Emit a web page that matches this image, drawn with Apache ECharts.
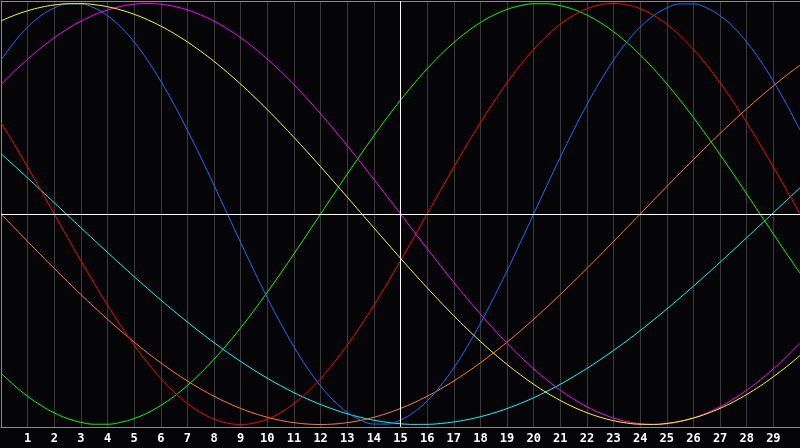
<!DOCTYPE html>
<html>
<head>
<meta charset="utf-8">
<script src="https://cdn.jsdelivr.net/npm/echarts@6/dist/echarts.min.js"></script>
<style>
html,body{margin:0;padding:0;background:#050508;}
#chart{width:800px;height:448px;}
</style>
</head>
<body>
<div id="chart"></div>
<script>
var days = [0,0.5,1,1.5,2,2.5,3,3.5,4,4.5,5,5.5,6,6.5,7,7.5,8,8.5,9,9.5,10,10.5,11,11.5,12,12.5,13,13.5,14,14.5,15,15.5,16,16.5,17,17.5,18,18.5,19,19.5,20,20.5,21,21.5,22,22.5,23,23.5,24,24.5,25,25.5,26,26.5,27,27.5,28,28.5,29,29.5,30];
var tickLabels = ['1','2','3','4','5','6','7','8','9','10','11','12','13','14','15','16','17','18','19','20','21','22','23','24','25','26','27','28','29'];

var blueVals = [0.731,0.817,0.888,0.942,0.979,0.998,0.998,0.979,0.942,0.888,0.817,0.731,0.631,0.520,0.398,0.270,0.136,0,-0.136,-0.270,-0.398,-0.520,-0.631,-0.731,-0.817,-0.888,-0.942,-0.979,-0.998,-0.998,-0.979,-0.942,-0.888,-0.817,-0.731,-0.631,-0.520,-0.398,-0.270,-0.136,0,0.136,0.270,0.398,0.520,0.631,0.731,0.817,0.888,0.942,0.979,0.998,0.998,0.979,0.942,0.888,0.817,0.731,0.631,0.520,0.398];
var redVals = [0.4339,0.3303,0.2225,0.1120,0,-0.1120,-0.2225,-0.3303,-0.4339,-0.5320,-0.6235,-0.7071,-0.7818,-0.8467,-0.9010,-0.9439,-0.9749,-0.9937,-1,-0.9937,-0.9749,-0.9439,-0.9010,-0.8467,-0.7818,-0.7071,-0.6235,-0.5320,-0.4339,-0.3303,-0.2225,-0.1120,0,0.1120,0.2225,0.3303,0.4339,0.5320,0.6235,0.7071,0.7818,0.8467,0.9010,0.9439,0.9749,0.9937,1,0.9937,0.9749,0.9439,0.9010,0.8467,0.7818,0.7071,0.6235,0.5320,0.4339,0.3303,0.2225,0.1120,0];
var greenVals = [-0.7557,-0.8146,-0.8660,-0.9096,-0.9450,-0.9718,-0.9898,-0.9989,-0.9989,-0.9898,-0.9718,-0.9450,-0.9096,-0.8660,-0.8146,-0.7557,-0.6900,-0.6181,-0.5406,-0.4582,-0.3717,-0.2817,-0.1893,-0.0950,0,0.0950,0.1893,0.2817,0.3717,0.4582,0.5406,0.6181,0.6900,0.7557,0.8146,0.8660,0.9096,0.9450,0.9718,0.9898,0.9989,0.9989,0.9898,0.9718,0.9450,0.9096,0.8660,0.8146,0.7557,0.6900,0.6181,0.5406,0.4582,0.3717,0.2817,0.1893,0.0950,0,-0.0950,-0.1893,-0.2817];
var magentaVals = [0.6142,0.6773,0.7357,0.7891,0.8372,0.8795,0.9158,0.9458,0.9694,0.9864,0.9966,1,0.9966,0.9864,0.9694,0.9458,0.9158,0.8795,0.8372,0.7891,0.7357,0.6773,0.6142,0.5469,0.4759,0.4017,0.3247,0.2455,0.1646,0.0826,0,-0.0826,-0.1646,-0.2455,-0.3247,-0.4017,-0.4759,-0.5469,-0.6142,-0.6773,-0.7357,-0.7891,-0.8372,-0.8795,-0.9158,-0.9458,-0.9694,-0.9864,-0.9966,-1,-0.9966,-0.9864,-0.9694,-0.9458,-0.9158,-0.8795,-0.8372,-0.7891,-0.7357,-0.6773,-0.6142];
var yellowVals = [0.9175,0.9440,0.9656,0.9820,0.9932,0.9990,0.9996,0.9948,0.9847,0.9693,0.9488,0.9232,0.8927,0.8573,0.8175,0.7730,0.7250,0.6725,0.6170,0.5578,0.4958,0.4310,0.3640,0.2951,0.2246,0.1528,0.0802,0.0073,-0.0657,-0.1383,-0.2103,-0.2811,-0.3504,-0.4179,-0.4830,-0.5457,-0.6053,-0.6617,-0.7146,-0.7637,-0.8090,-0.8498,-0.8860,-0.9175,-0.9440,-0.9656,-0.9820,-0.9932,-0.9990,-0.9996,-0.9948,-0.9847,-0.9693,-0.9488,-0.9232,-0.8927,-0.8573,-0.8175,-0.7730,-0.7250,-0.6725];
var orangeVals = [0,-0.0654,-0.1305,-0.1951,-0.2588,-0.3214,-0.3827,-0.4423,-0.5,-0.5556,-0.6088,-0.6593,-0.7071,-0.7518,-0.7934,-0.8315,-0.8660,-0.8969,-0.9239,-0.9469,-0.9659,-0.9808,-0.9914,-0.9979,-1,-0.9979,-0.9914,-0.9808,-0.9659,-0.9469,-0.9239,-0.8969,-0.8660,-0.8315,-0.7934,-0.7518,-0.7071,-0.6593,-0.6088,-0.5556,-0.5,-0.4423,-0.3827,-0.3214,-0.2588,-0.1951,-0.1305,-0.0654,0,0.0654,0.1305,0.1951,0.2588,0.3214,0.3827,0.4423,0.5,0.5556,0.6088,0.6593,0.7071];
var cyanVals = [0.2864,0.2292,0.1711,0.1123,0.0534,-0.0059,-0.0652,-0.1241,-0.1827,-0.2406,-0.2977,-0.3537,-0.4085,-0.4619,-0.5136,-0.5636,-0.6115,-0.6573,-0.7008,-0.7418,-0.7804,-0.8159,-0.8488,-0.8786,-0.9053,-0.9289,-0.9492,-0.9662,-0.9798,-0.9899,-0.9966,-0.9997,-0.9994,-0.9955,-0.9881,-0.9773,-0.9631,-0.9454,-0.9245,-0.9002,-0.8729,-0.8425,-0.8090,-0.7725,-0.7336,-0.6922,-0.6482,-0.6022,-0.5537,-0.5035,-0.4513,-0.3977,-0.3427,-0.2864,-0.2292,-0.1711,-0.1123,-0.0534,0.0059,0.0652,0.1241];

function pairs(vals){ return days.map(function(d,i){ return [d, vals[i]]; }); }

var seriesDefs = [
  {name:'cyan', color:'#00ffff', vals:cyanVals},
  {name:'orange', color:'#ff8020', vals:orangeVals},
  {name:'green', color:'#00ff00', vals:greenVals},
  {name:'red', color:'#ff0000', vals:redVals},
  {name:'blue', color:'#1a6cff', vals:blueVals},
  {name:'magenta', color:'#ff00ff', vals:magentaVals},
  {name:'yellow', color:'#ffff00', vals:yellowVals}
];

var series = seriesDefs.map(function(s){
  return {
    name: s.name, type:'line', data: pairs(s.vals), smooth: 0.4,
    showSymbol:false, symbol:'none', lineStyle:{color:s.color, width:1}, itemStyle:{color:s.color},
    silent:true, z:3
  };
});
series.push({
  type:'line', data:[], silent:true,
  markLine:{
    silent:true, symbol:['none','none'], label:{show:false},
    lineStyle:{color:'#ffffff', width:1, type:'solid'},
    data:[{yAxis:0},{xAxis:15}]
  },
  z:2
});

var chart = echarts.init(document.getElementById('chart'));
chart.setOption({
  backgroundColor:'#050508',
  animation:false,
  grid:{left:1, right:0, top:1, bottom:21},
  xAxis:[{
    type:'value', min:0, max:30, interval:1,
    axisLine:{show:true, onZero:false, lineStyle:{color:'#8a8a8a', width:1}},
    axisTick:{show:false},
    splitLine:{show:true, lineStyle:{color:'#3a3a3a', width:1}},
    axisLabel:{
      color:'#ffffff', fontFamily:'DejaVu Sans Mono', fontWeight:'bold', fontSize:12, margin:6,
      showMinLabel:false, showMaxLabel:false,
      formatter:function(v){ return (v>=1 && v<=29) ? tickLabels[v-1] : ''; }
    }
  },{
    type:'value', position:'top', min:0, max:30,
    axisLine:{show:true, onZero:false, lineStyle:{color:'#8a8a8a', width:1}},
    axisTick:{show:false}, axisLabel:{show:false}, splitLine:{show:false}
  }],
  yAxis:{
    type:'value', min:-1.012, max:1.012,
    axisLine:{show:true, onZero:false, lineStyle:{color:'#8a8a8a', width:1}},
    axisTick:{show:false}, axisLabel:{show:false}, splitLine:{show:false}
  },
  series: series
});
</script>
</body>
</html>
